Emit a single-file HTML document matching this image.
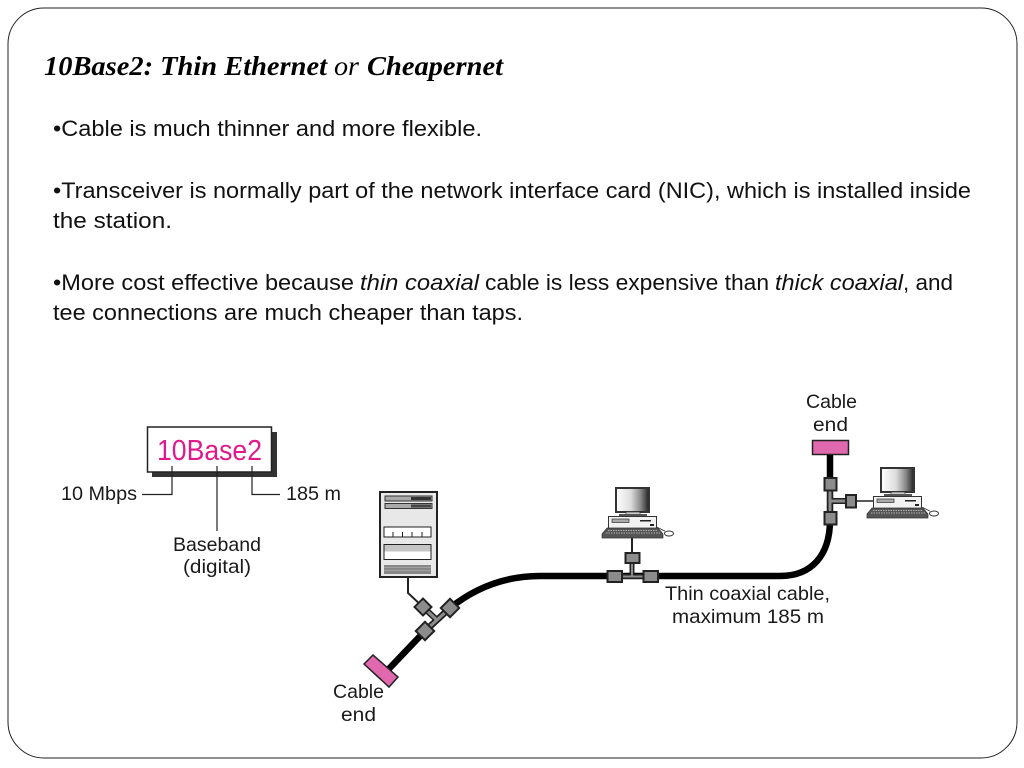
<!DOCTYPE html>
<html><head><meta charset="utf-8"><style>html,body{margin:0;padding:0;background:#fff;width:1024px;height:768px;overflow:hidden}svg{display:block}
.b{font-family:"Liberation Sans",sans-serif;font-size:22px;fill:#111}
.l{font-family:"Liberation Sans",sans-serif;font-size:19.5px;fill:#1a1a1a}
.t{font-family:"Liberation Serif",serif;font-size:27px;font-style:italic;fill:#000}
.c{fill:#8c8c8c;stroke:#222;stroke-width:2}
</style></head><body>
<svg width="1024" height="768" viewBox="0 0 1024 768" xmlns="http://www.w3.org/2000/svg">
<defs>
<linearGradient id="g" x1="0" x2="1"><stop offset="0" stop-color="#fff"/><stop offset=".45" stop-color="#ddd"/><stop offset=".75" stop-color="#888"/><stop offset="1" stop-color="#222"/></linearGradient>
<g id="pc">
<rect x="616" y="488" width="33" height="24" fill="url(#g)" stroke="#333" stroke-width="2"/>
<rect x="626" y="512" width="14" height="3" fill="#ccc" stroke="#333" stroke-width=".7"/>
<rect x="619" y="514" width="28" height="2" fill="#555"/>
<rect x="608.500" y="516.500" width="48" height="12" fill="#f2f2f2" stroke="#333"/>
<rect x="612" y="519" width="17" height="3.500" fill="#aaa" stroke="#333" stroke-width=".7"/>
<rect x="640" y="520" width="11" height="1.500" fill="#222"/>
<rect x="650" y="524" width="4" height="2" fill="#222"/>
<polygon points="607,528 658,528 663,534 663,538 602,538 602,534" fill="#555" stroke="#333" stroke-width=".7"/>
<path d="M608 530.500H657M606 533H660" stroke="#ccc" stroke-width=".8" stroke-dasharray="1.500 1"/>
<path d="M656 527C660 528 662 530 665 531" fill="none" stroke="#333" stroke-width=".8"/>
<ellipse cx="669" cy="533.500" rx="4.500" ry="2.500" fill="#fff" stroke="#333"/>
</g>
</defs>
<rect x="8" y="8" width="1009" height="750" rx="36" ry="36" fill="#fff" stroke="#222" stroke-width="1"/>

<text x="44" y="75" class="t" font-weight="bold" textLength="283" lengthAdjust="spacingAndGlyphs">10Base2: Thin Ethernet</text>
<text x="334" y="75" class="t" textLength="25" lengthAdjust="spacingAndGlyphs">or</text>
<text x="367" y="75" class="t" font-weight="bold" textLength="136" lengthAdjust="spacingAndGlyphs">Cheapernet</text>

<text x="53" y="136" class="b" textLength="429" lengthAdjust="spacingAndGlyphs">•Cable is much thinner and more flexible.</text>
<text x="53" y="198" class="b" textLength="918" lengthAdjust="spacingAndGlyphs">•Transceiver is normally part of the network interface card (NIC), which is installed inside</text>
<text x="53" y="228" class="b" textLength="119" lengthAdjust="spacingAndGlyphs">the station.</text>
<text x="53" y="290" class="b" textLength="301" lengthAdjust="spacingAndGlyphs">•More cost effective because</text>
<text x="360" y="290" class="b" font-style="italic" textLength="119" lengthAdjust="spacingAndGlyphs">thin coaxial</text>
<text x="485" y="290" class="b" textLength="284" lengthAdjust="spacingAndGlyphs">cable is less expensive than</text>
<text x="775" y="290" class="b" font-style="italic" textLength="128" lengthAdjust="spacingAndGlyphs">thick coaxial</text>
<text x="903" y="290" class="b" textLength="50" lengthAdjust="spacingAndGlyphs">, and</text>
<text x="53" y="320" class="b" textLength="470" lengthAdjust="spacingAndGlyphs">tee connections are much cheaper than taps.</text>

<!-- 10Base2 box -->
<rect x="152" y="432" width="125" height="45" fill="#333"/>
<rect x="147.500" y="427" width="124" height="45" fill="#fff" stroke="#222" stroke-width="1.500"/>
<text x="157" y="460" font-family="'Liberation Sans',sans-serif" font-size="29" fill="#df1a8c" textLength="105" lengthAdjust="spacingAndGlyphs">10Base2</text>
<path d="M172 466V494.500H142M217 466V531M252 466V494.500H280" fill="none" stroke="#222" stroke-width="1.200"/>
<text x="61" y="500" class="l" textLength="76" lengthAdjust="spacingAndGlyphs">10 Mbps</text>
<text x="286" y="500" class="l" textLength="55" lengthAdjust="spacingAndGlyphs">185 m</text>
<text x="173" y="551" class="l" textLength="88" lengthAdjust="spacingAndGlyphs">Baseband</text>
<text x="183" y="573" class="l" textLength="68" lengthAdjust="spacingAndGlyphs">(digital)</text>

<!-- cable -->
<path d="M384 674L424 632L450 608C475 588 505 576 540 576H780C812 576 830 555 830 520V452" fill="none" stroke="#000" stroke-width="6.500"/>
<polygon points="364,664 373,655 398,677 389,687" fill="#e068ae" stroke="#222" stroke-width="1.500"/>
<rect x="812.500" y="440.500" width="36" height="14" fill="#e068ae" stroke="#222" stroke-width="1.500"/>

<!-- server -->
<rect x="380" y="492" width="57" height="85" fill="#e8e8e8" stroke="#222" stroke-width="2"/>
<rect x="385" y="496" width="47" height="5" fill="#aaa" stroke="#333"/><rect x="411" y="497" width="20" height="3" fill="#333"/>
<rect x="385" y="503.500" width="47" height="5" fill="#aaa" stroke="#333"/><rect x="411" y="504.500" width="20" height="3" fill="#444"/>
<rect x="384" y="527" width="47" height="10" fill="#fff" stroke="#222"/>
<path d="M393 532V537M402.500 532V537M412 532V537M422 532V537" stroke="#222"/>
<rect x="384" y="544.500" width="47" height="15" fill="#fff" stroke="#222"/><rect x="384.500" y="545" width="46" height="6.500" fill="#c4c4c4"/>
<rect x="384" y="565" width="47" height="9" fill="#888"/>
<path d="M384 567.500H431M384 570.500H431" stroke="#aaa" stroke-width=".7"/>
<path d="M408 577V593L423 607" fill="none" stroke="#222" stroke-width="2"/>

<!-- left T connector -->
<path d="M423 607L438 621M425 631L450 608" stroke="#222" stroke-width="6"/>
<path d="M423 607L438 621M425 631L450 608" stroke="#8c8c8c" stroke-width="3"/>
<rect x="417" y="601" width="12" height="12" class="c" transform="rotate(45 423 607)"/>
<rect x="443.500" y="601.500" width="13" height="13" class="c" transform="rotate(45 450 608)"/>
<rect x="418.500" y="624.500" width="13" height="13" class="c" transform="rotate(45 425 631)"/>

<!-- middle T -->
<use href="#pc"/>
<path d="M632 538V553" stroke="#222" stroke-width="2"/>
<path d="M622 576.500H643M632 562V576" stroke="#222" stroke-width="5"/>
<path d="M622 576.500H643M632 562V576" stroke="#8c8c8c" stroke-width="2"/>
<rect x="625.500" y="553" width="14" height="10" class="c"/>
<rect x="607.500" y="571" width="14.500" height="11" class="c"/>
<rect x="643.500" y="571" width="14.500" height="11" class="c"/>

<!-- right T -->
<use href="#pc" transform="translate(265 -20)"/>
<path d="M856 501H873" stroke="#222" stroke-width="1.500"/>
<path d="M830 490V512M830 501H846" stroke="#222" stroke-width="6"/>
<path d="M830 490V512M830 501H846" stroke="#8c8c8c" stroke-width="3"/>
<rect x="824.500" y="478" width="12" height="12.500" class="c"/>
<rect x="824.500" y="512" width="12" height="12.500" class="c"/>
<rect x="846" y="495" width="10" height="12.500" class="c"/>

<text x="806" y="408" class="l" textLength="51" lengthAdjust="spacingAndGlyphs">Cable</text>
<text x="813" y="431" class="l" textLength="35" lengthAdjust="spacingAndGlyphs">end</text>
<text x="333" y="698" class="l" textLength="51" lengthAdjust="spacingAndGlyphs">Cable</text>
<text x="341" y="721" class="l" textLength="35" lengthAdjust="spacingAndGlyphs">end</text>
<text x="665" y="600" class="l" textLength="165" lengthAdjust="spacingAndGlyphs">Thin coaxial cable,</text>
<text x="672" y="623" class="l" textLength="152" lengthAdjust="spacingAndGlyphs">maximum 185 m</text>
</svg>
</body></html>
